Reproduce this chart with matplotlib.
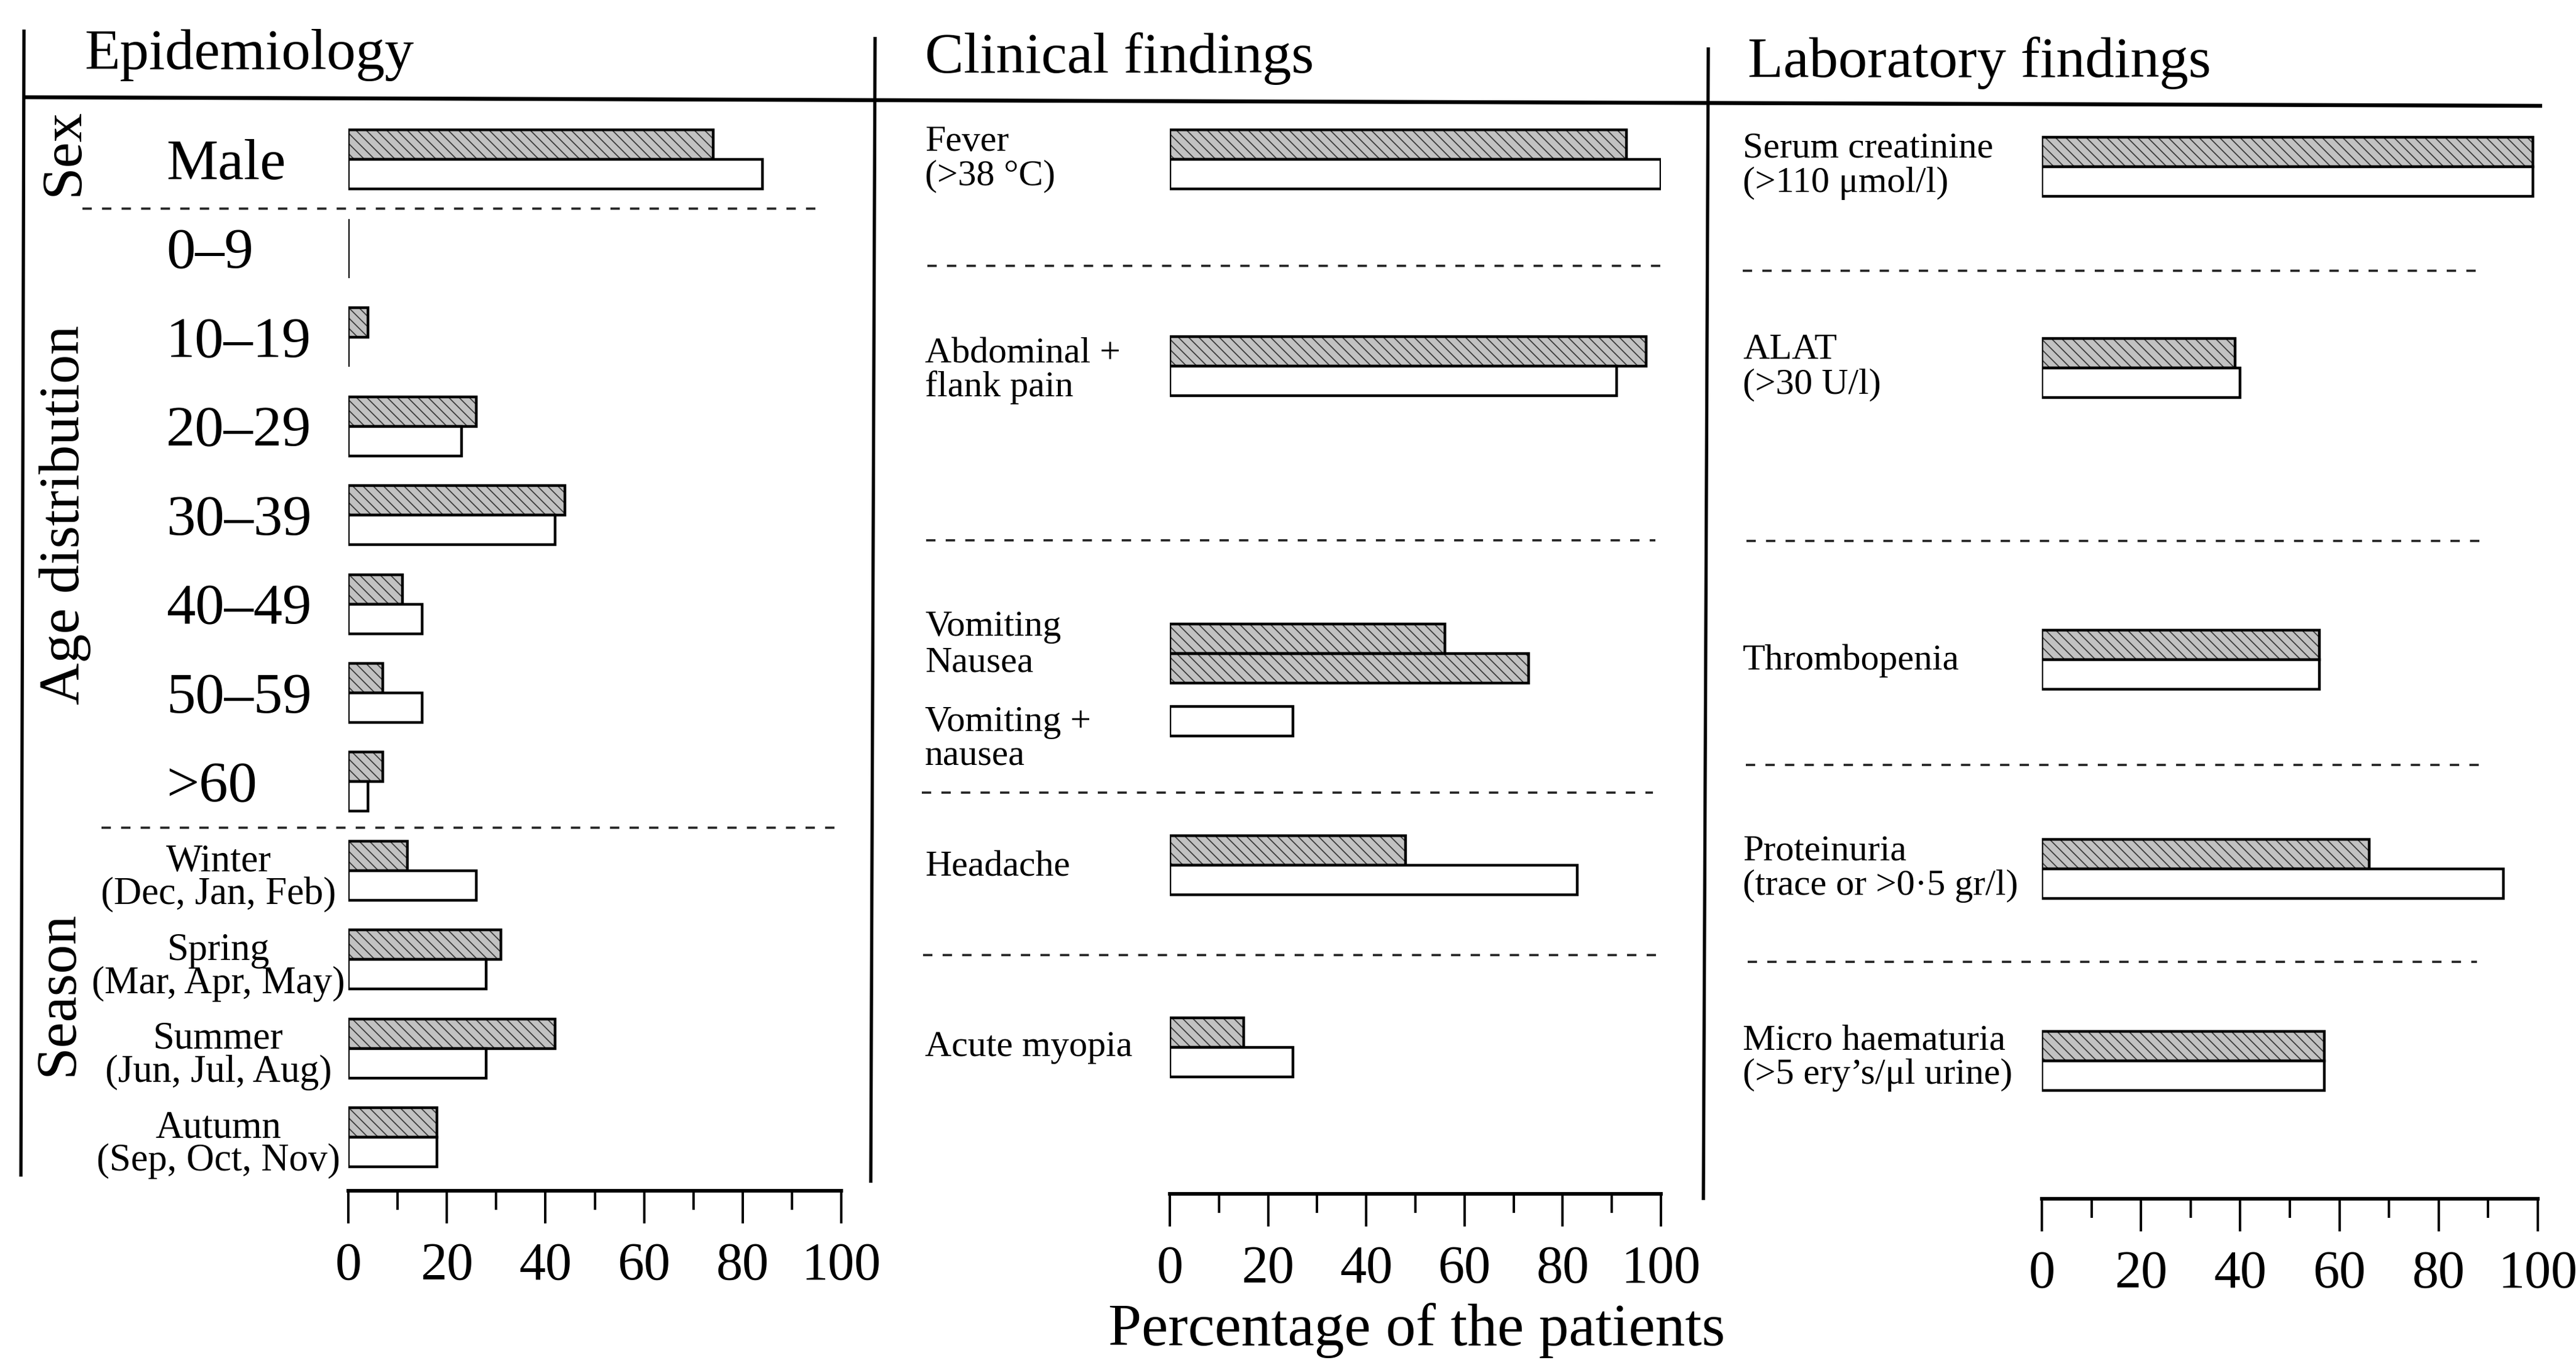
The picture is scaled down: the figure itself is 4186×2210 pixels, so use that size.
import numpy as np
import matplotlib
matplotlib.use("Agg")
import matplotlib.pyplot as plt
from matplotlib.ticker import FixedLocator, MultipleLocator

plt.rcParams['font.family'] = ['Liberation Serif', 'DejaVu Serif']
plt.rcParams['hatch.linewidth'] = 0.65

# ---------------- data ----------------
panel_titles = ["Epidemiology", "Clinical findings", "Laboratory findings"]

epi_groups = ["Sex", "Age distribution", "Season"]
epi_labels = ["Male", "0–9", "10–19", "20–29", "30–39", "40–49", "50–59", ">60",
              "Winter\n(Dec, Jan, Feb)", "Spring\n(Mar, Apr, May)",
              "Summer\n(Jun, Jul, Aug)", "Autumn\n(Sep, Oct, Nov)"]
epi_hatched = [74, 0, 4, 26, 44, 11, 7, 7, 12, 31, 42, 18]
epi_open = [84, 0, 0, 23, 42, 15, 15, 4, 26, 28, 28, 18]

clin_labels = ["Fever\n(>38 °C)", "Abdominal +\nflank pain", "Vomiting", "Nausea",
               "Vomiting +\nnausea", "Headache", "Acute myopia"]
clin_hatched = [93, 97, 56, 73, np.nan, 48, 15]
clin_open = [100, 91, np.nan, np.nan, 25, 83, 25]

lab_labels = ["Serum creatinine\n(>110 μmol/l)", "ALAT\n(>30 U/l)", "Thrombopenia",
              "Proteinuria\n(trace or >0·5 gr/l)", "Micro haematuria\n(>5 ery’s/μl urine)"]
lab_hatched = [99, 39, 56, 66, 57]
lab_open = [99, 40, 56, 93, 57]

xticks = [0, 20, 40, 60, 80, 100]
xlabel = "Percentage of the patients"

# ---------------- layout (figure pixels) ----------------
W, H, DPI = 4186, 2210, 200
BAR_H = 48
FILL = "#c2c2c2"
HATCH_C = "#3c3c3c"
HATCH = "\\\\\\\\"
EDGE_LW = 1.6

# per panel: x of 0, x of 100, y of axis line
panels = [(566, 1367, 1935), (1901, 2699, 1940), (3318, 4124, 1948)]

epi_rows = 259 + 144.5 * np.arange(len(epi_labels))
epi_hat_y = epi_rows - BAR_H / 2
epi_open_y = epi_rows + BAR_H / 2

clin_hat_y = [235, 571, 1038, 1086, np.nan, 1382, 1678]
clin_open_y = [283, 619, np.nan, np.nan, 1172, 1430, 1726]
clin_label_base = [245, 589, 1033, 1091, 1188, 1423, 1716]

lab_rows = np.array([271, 598, 1072, 1412, 1724])
lab_label_base = [256, 583, 1088, 1398, 1705]

fig = plt.figure(figsize=(W / DPI, H / DPI), dpi=DPI)
fig.patch.set_facecolor("white")

# overlay axes in pixel coordinates
ov = fig.add_axes([0, 0, 1, 1])
ov.set_xlim(0, W)
ov.set_ylim(H, 0)
ov.axis("off")

# frame lines
ov.plot([39, 34], [48, 1912], color="black", lw=1.9, solid_capstyle="butt")
ov.plot([1422, 1415], [60, 1922], color="black", lw=1.9, solid_capstyle="butt")
ov.plot([2776, 2768], [77, 1950], color="black", lw=1.9, solid_capstyle="butt")
ov.plot([37, 4131], [158, 172], color="black", lw=2.3, solid_capstyle="butt")

# dashed separators
dash_lines = [(134, 1332, 339), (165, 1360, 1345),
              (1507, 2699, 432), (1505, 2690, 878), (1498, 2686, 1288), (1500, 2694, 1552),
              (2832, 4028, 440), (2838, 4030, 879), (2837, 4033, 1243), (2840, 4025, 1563)]
for xa, xb, yy in dash_lines:
    ov.plot([xa, xb], [yy, yy], color="#222222", lw=1.3, linestyle=(0, (4.2, 4.6)))

# titles
ov.text(137, 112, panel_titles[0], fontsize=34, ha="left", va="baseline")
ov.text(1503, 118, panel_titles[1], fontsize=34, ha="left", va="baseline")
ov.text(2840, 125, panel_titles[2], fontsize=34, ha="left", va="baseline")

# group labels
for txt, (gx, gy) in zip(epi_groups, [(104, 247), (106, 837), (95, 1614)]):
    ov.text(gx, gy, txt, fontsize=34, rotation=90, ha="center", va="center")

# epidemiology row labels
for i, lab in enumerate(epi_labels):
    r = epi_rows[i]
    if "\n" in lab:
        l1, l2 = lab.split("\n")
        ov.text(355, r, l1, fontsize=22.5, ha="center", va="baseline")
        ov.text(355, r + 54, l2, fontsize=22.5, ha="center", va="baseline")
    else:
        ov.text(270, r + 32, lab, fontsize=34, ha="left", va="baseline")


def put_label(x, base, text, gap):
    for k, line in enumerate(text.split("\n")):
        ov.text(x, base + k * gap, line, fontsize=21.5, ha="left", va="baseline")


for lab, b in zip(clin_labels, clin_label_base):
    put_label(1503, b, lab, 55)
for lab, b in zip(lab_labels, lab_label_base):
    put_label(2832, b, lab, 56)

ov.text(2302, 2186, xlabel, fontsize=35, ha="center", va="baseline")


def make_axes(x0, x100, ay):
    ax = fig.add_axes([x0 / W, (H - ay) / H, (x100 - x0) / W, ay / H])
    ax.set_xlim(0, 100)
    ax.set_ylim(ay, 0)
    ax.patch.set_visible(False)
    for s in ("left", "right", "top"):
        ax.spines[s].set_visible(False)
    ax.spines["bottom"].set_linewidth(2.1)
    ax.yaxis.set_visible(False)
    ax.xaxis.set_major_locator(FixedLocator(xticks))
    ax.xaxis.set_minor_locator(MultipleLocator(10))
    ax.tick_params(axis="x", which="major", length=19, width=1.4, pad=11,
                   labelsize=31, direction="out")
    ax.tick_params(axis="x", which="minor", length=11, width=1.4, direction="out")
    return ax


def draw_bars(ax, ys, vals, hatched):
    ys = np.asarray(ys, float)
    v = np.asarray(vals, float)
    m = ~np.isnan(v) & ~np.isnan(ys)
    if hatched:
        ax.barh(ys[m], v[m], height=BAR_H, color=FILL, edgecolor=HATCH_C,
                hatch=HATCH, linewidth=0, zorder=2)
        ax.barh(ys[m], v[m], height=BAR_H, fill=False, edgecolor="black",
                linewidth=EDGE_LW, zorder=3, joinstyle="miter")
    else:
        ax.barh(ys[m], v[m], height=BAR_H, facecolor="white", edgecolor="black",
                linewidth=EDGE_LW, zorder=3, joinstyle="miter")


ax1 = make_axes(*panels[0])
draw_bars(ax1, epi_hat_y, epi_hatched, True)
draw_bars(ax1, epi_open_y, epi_open, False)

ax2 = make_axes(*panels[1])
draw_bars(ax2, clin_hat_y, clin_hatched, True)
draw_bars(ax2, clin_open_y, clin_open, False)

ax3 = make_axes(*panels[2])
draw_bars(ax3, lab_rows - BAR_H / 2, lab_hatched, True)
draw_bars(ax3, lab_rows + BAR_H / 2, lab_open, False)

fig.savefig("out.png", dpi=DPI, facecolor="white")
